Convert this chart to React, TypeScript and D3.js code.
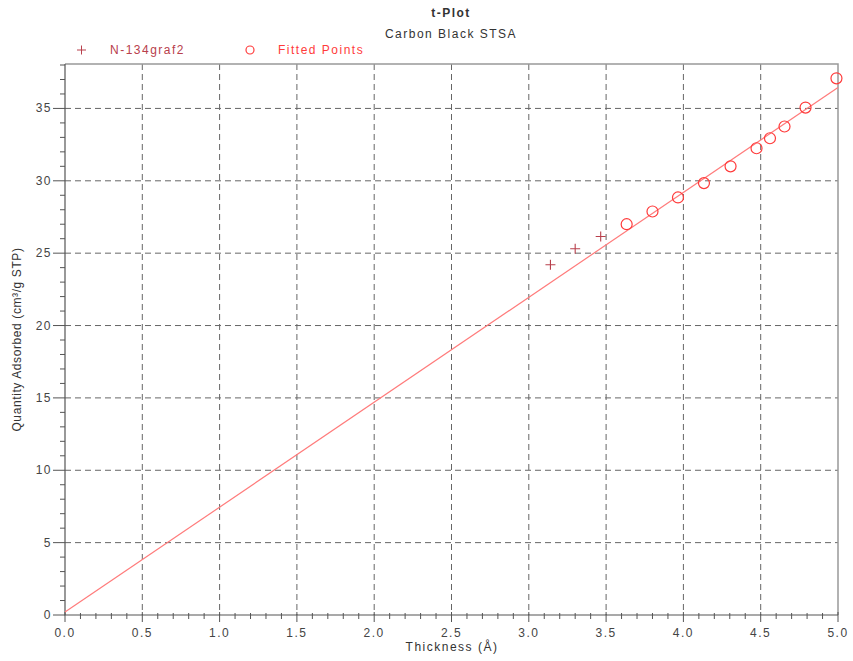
import React from "react";
import * as d3 from "d3";

const crossX = [3.14, 3.30, 3.465];
const crossY = [24.2, 25.3, 26.15];
const fitX = [3.633, 3.80, 3.965, 4.133, 4.305, 4.473, 4.56, 4.654, 4.79, 4.99];
const fitY = [27.0, 27.88, 28.85, 29.84, 31.0, 32.25, 32.94, 33.75, 35.06, 37.08];
const lineX = [0, 5];
const lineY = [0.2, 36.45];
const xMajor = [0, 0.5, 1, 1.5, 2, 2.5, 3, 3.5, 4, 4.5, 5];
const yMajor = [0, 5, 10, 15, 20, 25, 30, 35];

const W = 853, H = 661;
const L = 65, R = 838, T = 64, B = 615;
const font = "'Liberation Sans', Arial, sans-serif";
const fs = 12;
const ls = 1.5;

export default function App() {
  const x = d3.scaleLinear().domain([0, 5]).range([L, R]);
  const y = d3.scaleLinear().domain([0, 38.07]).range([B, T]);
  const xMinor = d3.range(0, 51).map((i) => i / 10).filter((v) => Math.round(v * 10) % 5 !== 0);
  const yMinor = d3.range(0, 39).filter((v) => v % 5 !== 0);
  const line = d3.line<number>().x((_, i) => x(lineX[i])).y((_, i) => y(lineY[i]));
  const crossColor = "#b8404c";
  const red = "#ff3b3b";
  return (
    <svg width={W} height={H} style={{ position: "absolute", left: 0, top: 0, background: "#fff" }} fontFamily={font} letterSpacing={ls}>
      <rect x={0} y={0} width={W} height={H} fill="#fff" />
      <text x={451} y={17} textAnchor="middle" fontSize={fs} fontWeight="bold" fill="#333">t-Plot</text>
      <text x={451} y={38} textAnchor="middle" fontSize={fs} fill="#333">Carbon Black STSA</text>
      {/* legend */}
      <g>
        <path d="M77,50h9M81.5,45.5v9" stroke={crossColor} strokeWidth={1} />
        <text x={110} y={54} fontSize={fs} fill={crossColor}>N-134graf2</text>
        <circle cx={250} cy={50} r={4} fill="none" stroke={red} strokeWidth={1.2} />
        <text x={278} y={54} fontSize={fs} fill={red}>Fitted Points</text>
      </g>
      {/* grid */}
      <g stroke="#666" strokeWidth={1} strokeDasharray="6,4">
        {xMajor.filter((v) => v > 0 && v < 5).map((v) => (
          <line key={"gx" + v} x1={x(v)} x2={x(v)} y1={T} y2={B} />
        ))}
        {yMajor.filter((v) => v > 0).map((v) => (
          <line key={"gy" + v} x1={L} x2={R} y1={y(v)} y2={y(v)} />
        ))}
      </g>
      {/* frame */}
      <path d={`M${L},${T}H${R}V${B}`} fill="none" stroke="#999" strokeWidth={1.5} />
      <path d={`M${L},${T}V${B}H${R}`} fill="none" stroke="#555" strokeWidth={1.2} />
      {/* ticks */}
      <g stroke="#555" strokeWidth={1}>
        {xMajor.map((v) => (
          <line key={"xt" + v} x1={x(v)} x2={x(v)} y1={B - 3} y2={B + 7} />
        ))}
        {xMinor.map((v) => (
          <line key={"xm" + v} x1={x(v)} x2={x(v)} y1={B - 2} y2={B + 4} />
        ))}
        {yMajor.map((v) => (
          <line key={"yt" + v} x1={L - 12} x2={L} y1={y(v)} y2={y(v)} />
        ))}
        {yMinor.map((v) => (
          <line key={"ym" + v} x1={L - 5} x2={L} y1={y(v)} y2={y(v)} />
        ))}
      </g>
      <g fontSize={fs} fill="#444">
        {xMajor.map((v) => (
          <text key={"xl" + v} x={x(v)} y={637} textAnchor="middle">{v.toFixed(1)}</text>
        ))}
        {yMajor.map((v) => (
          <text key={"yl" + v} x={L - 13} y={y(v) + 4} textAnchor="end">{v}</text>
        ))}
      </g>
      <text x={452} y={651} textAnchor="middle" fontSize={fs} fill="#333">Thickness (Å)</text>
      <text transform={`translate(21,${(T + B) / 2}) rotate(-90)`} textAnchor="middle" fontSize={fs} letterSpacing={0.6} fill="#333">
        Quantity Adsorbed (cm³/g STP)
      </text>
      {/* fit line */}
      <path d={line(lineX) || ""} fill="none" stroke="#ff7b7b" strokeWidth={1.2} />
      {/* crosses */}
      {crossX.map((v, i) => (
        <path key={"c" + i} d={`M${x(v) - 5},${y(crossY[i])}h10M${x(v)},${y(crossY[i]) - 5}v10`} stroke={crossColor} strokeWidth={1.1} />
      ))}
      {fitX.map((v, i) => (
        <circle key={"f" + i} cx={x(v)} cy={y(fitY[i])} r={5.5} fill="none" stroke={red} strokeWidth={1.2} />
      ))}
    </svg>
  );
}
